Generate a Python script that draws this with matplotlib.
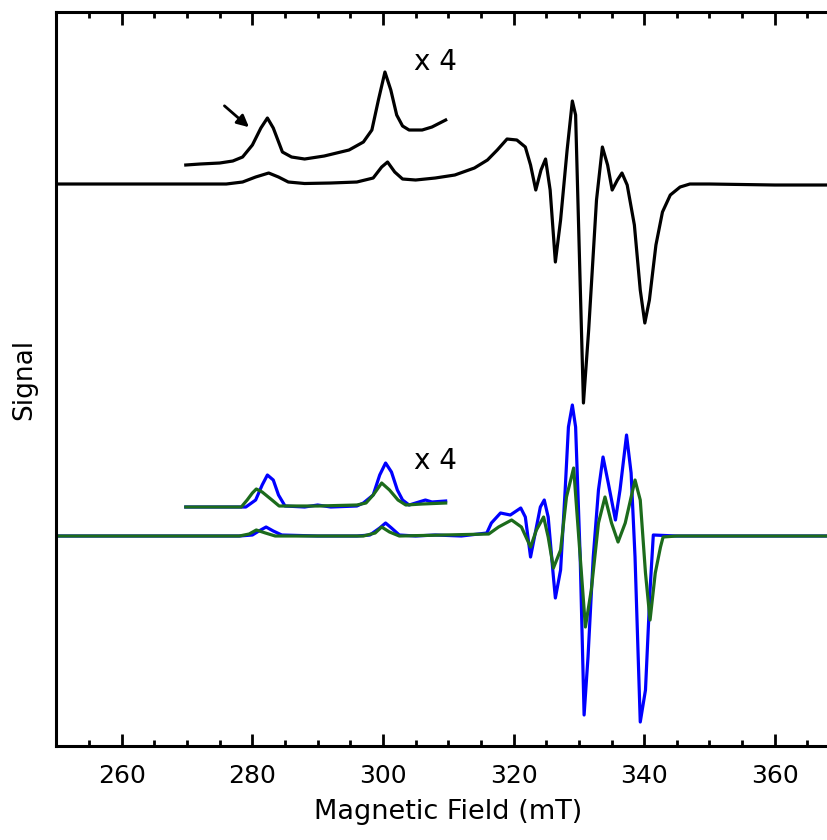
import numpy as np
import matplotlib.pyplot as plt
from matplotlib.ticker import MultipleLocator

# ==================== data (field in mT, signal in arbitrary units) ====================
top_B = [250, 270, 276, 278.5, 280.5, 282.5, 284, 285.5, 288, 292, 296, 298.5, 299.8, 300.7,
         301.8, 303, 305, 308, 311, 314, 316, 317.5, 319, 320.5, 321.8, 322.6, 323.4, 324.2,
         324.9, 325.6, 326.4, 327.2, 328.2, 329.0, 329.5, 330.1, 330.7, 331.5, 332.7, 333.6,
         334.4, 335.1, 335.9, 336.6, 337.4, 338.5, 339.4, 340.1, 340.8, 341.8, 342.8, 344,
         345.5, 347, 350, 360, 370]
top_S = [0, 0, 0, 0.02, 0.07, 0.11, 0.07, 0.02, 0.005, 0.01, 0.02, 0.06, 0.17, 0.22,
         0.12, 0.05, 0.04, 0.06, 0.09, 0.16, 0.24, 0.34, 0.45, 0.44, 0.37, 0.19, -0.06, 0.14,
         0.25, -0.06, -0.78, -0.36, 0.34, 0.83, 0.69, -0.76, -2.19, -1.46, -0.16, 0.37,
         0.19, -0.06, 0.04, 0.11, -0.01, -0.41, -1.06, -1.39, -1.16, -0.61, -0.28, -0.11,
         -0.03, 0, 0, -0.01, -0.01]

top4_B = [269.8, 272, 275, 277, 278.5, 280, 281.3, 282.3, 283.2, 284.6, 286, 288, 291, 294.8,
          297, 298.3, 299.3, 300.3, 301.2, 302.1, 303, 304, 306, 307.5, 309.6]
top4_S = [0, 0.01, 0.02, 0.04, 0.08, 0.20, 0.37, 0.47, 0.37, 0.13, 0.08, 0.06, 0.09, 0.15,
          0.23, 0.35, 0.65, 0.93, 0.75, 0.50, 0.39, 0.35, 0.35, 0.38, 0.45]

blue_B = [250, 278, 280, 281, 282.1, 283.2, 284.5, 290, 296, 298, 299.5, 300.4, 301.3, 302.5,
          305, 308, 312, 315.9, 316.6, 318.0, 319.5, 321.1, 321.8, 322.6, 324.1, 324.7, 325.3,
          326.1, 326.4, 327.2, 327.9, 328.4, 329.0, 329.5, 330.2, 330.8, 331.4, 332.2, 333.0,
          333.7, 334.5, 335.6, 336.3, 337.3, 338.0, 338.6, 339.4, 340.2, 340.9, 341.4, 345, 370]
blue_S = [0, 0, 0.01, 0.05, 0.09, 0.05, 0.01, 0, 0, 0.01, 0.08, 0.13, 0.08, 0.01,
          0, 0.01, 0, 0.03, 0.13, 0.23, 0.21, 0.28, 0.19, -0.21, 0.29, 0.36, 0.19,
          -0.41, -0.62, -0.34, 0.46, 1.09, 1.31, 1.09, -0.21, -1.79, -1.21, -0.21, 0.46,
          0.79, 0.53, 0.16, 0.46, 1.01, 0.63, -0.21, -1.86, -1.54, -0.54, 0.01, 0, 0]

green_B = [250, 278, 279.5, 280.6, 282, 283.5, 297, 298.8, 299.8, 301, 302.5, 316.2, 317.7,
           319.7, 321.2, 322.6, 323.5, 324.6, 325.3, 326.1, 327.2, 328.1, 329.2, 329.9, 331.0,
           331.9, 333.0, 334.0, 335.0, 336.0, 337.1, 338.6, 339.4, 340.2, 340.9, 341.7, 342.5,
           342.9, 345, 370]
green_S = [0, 0, 0.02, 0.06, 0.03, 0, 0, 0.03, 0.09, 0.04, 0, 0.02, 0.09,
           0.16, 0.09, -0.11, 0.06, 0.19, -0.01, -0.32, -0.14, 0.39, 0.68, 0.06, -0.91,
           -0.54, 0.13, 0.39, 0.13, -0.06, 0.13, 0.56, 0.36, -0.37, -0.84, -0.37, -0.11,
           -0.01, 0, 0]

blue4_B = [269.8, 279, 280.5, 281.5, 282.3, 283.2, 284, 285, 288, 290, 292, 296, 297, 298.5,
           299.5, 300.4, 301.3, 302.2, 303, 304, 305.5, 306.5, 307.5, 309.6]
blue4_S = [0, 0, 0.07, 0.22, 0.32, 0.27, 0.12, 0.01, 0, 0.02, 0, 0.01, 0.04, 0.12,
           0.32, 0.44, 0.35, 0.17, 0.07, 0.02, 0.05, 0.07, 0.05, 0.06]

green4_B = [269.8, 278.3, 279.2, 280, 280.6, 281.5, 283, 284.1, 290, 296, 297.4, 298.5, 299.8,
            301, 302.3, 303.5, 306, 309.6]
green4_S = [0, 0, 0.07, 0.14, 0.18, 0.15, 0.07, 0.01, 0.01, 0.02, 0.04, 0.12, 0.24,
            0.17, 0.07, 0.02, 0.03, 0.04]

# vertical offsets of the stacked traces
off_top, off_top4 = 0.0, 0.19
off_bot, off_bot4 = -3.52, -3.23

BLUE = "#0000ff"
GREEN = "#1c6b1c"
LW = 2.3

plt.rcParams["font.family"] = "DejaVu Sans"

fig = plt.figure(figsize=(8.27, 8.40), dpi=100)
ax = fig.add_axes([0.0683, 0.1119, 0.9475, 0.8738])

ax.plot(top_B, np.array(top_S) + off_top, color="k", lw=LW)
ax.plot(top4_B, np.array(top4_S) + off_top4, color="k", lw=LW)

ax.plot(blue_B, np.array(blue_S) + off_bot, color=BLUE, lw=LW)
ax.plot(blue4_B, np.array(blue4_S) + off_bot4, color=BLUE, lw=LW)
ax.plot(green_B, np.array(green_S) + off_bot, color=GREEN, lw=LW)
ax.plot(green4_B, np.array(green4_S) + off_bot4, color=GREEN, lw=LW)

ax.text(308.1, 1.22, "x 4", fontsize=20, ha="center", va="center")
ax.text(308.1, -2.77, "x 4", fontsize=20, ha="center", va="center")

ax.annotate("", xy=(279.8, 0.55), xytext=(275.4, 0.80),
            arrowprops=dict(arrowstyle="-|>,head_length=0.7,head_width=0.35",
                            color="k", lw=2))

ax.set_xlim(250, 370)
ax.set_ylim(-5.62, 1.72)

ax.xaxis.set_major_locator(MultipleLocator(20))
ax.xaxis.set_minor_locator(MultipleLocator(5))
ax.set_yticks([])
ax.tick_params(axis="x", which="both", direction="in", top=True, bottom=True,
               width=2, labelsize=18, pad=13)
ax.tick_params(axis="x", which="major", length=9)
ax.tick_params(axis="x", which="minor", length=4.5)
for s in ax.spines.values():
    s.set_linewidth(2.2)

ax.set_xlabel("Magnetic Field (mT)", fontsize=19.5, labelpad=8)
ax.set_ylabel("Signal", fontsize=19, labelpad=14)

fig.savefig("out.png", dpi=100)
